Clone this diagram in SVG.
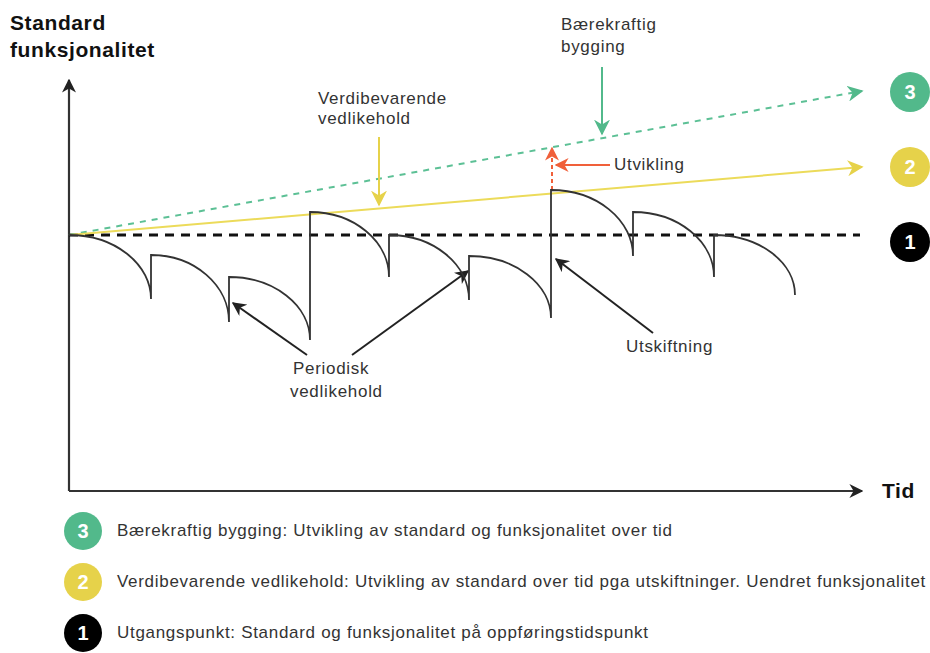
<svg xmlns="http://www.w3.org/2000/svg" width="930" height="653" viewBox="0 0 930 653">
<defs>
<style>
.t{font-family:"Liberation Sans",Arial,sans-serif;font-size:17px;letter-spacing:0.7px;fill:#333}
.b{font-family:"Liberation Sans",Arial,sans-serif;font-size:21px;letter-spacing:0.6px;font-weight:bold;fill:#111}
.n{font-family:"Liberation Sans",Arial,sans-serif;font-size:20px;font-weight:bold;fill:#fff;text-anchor:middle}
.curve{fill:none;stroke:#333;stroke-width:1.8}
</style>
<marker id="ak2" viewBox="0 0 10 10" refX="9" refY="5" markerWidth="14" markerHeight="14" markerUnits="userSpaceOnUse" orient="auto"><path d="M0,0 L10,5 L0,10 L3,5 z" fill="#222"/></marker>
<marker id="ag" viewBox="0 0 10 10" refX="9" refY="5" markerWidth="16" markerHeight="16" markerUnits="userSpaceOnUse" orient="auto"><path d="M0,0 L10,5 L0,10 L3,5 z" fill="#52b98b"/></marker>
<marker id="ay" viewBox="0 0 10 10" refX="9" refY="5" markerWidth="16" markerHeight="16" markerUnits="userSpaceOnUse" orient="auto"><path d="M0,0 L10,5 L0,10 L3,5 z" fill="#e6d24a"/></marker>
<marker id="ar" viewBox="0 0 10 10" refX="9" refY="5" markerWidth="14" markerHeight="14" markerUnits="userSpaceOnUse" orient="auto"><path d="M0,0 L10,5 L0,10 L3,5 z" fill="#f0603a"/></marker>
</defs>
<rect width="930" height="653" fill="#fff"/>

<g id="axes">
<line x1="69" y1="491" x2="69" y2="80" stroke="#333" stroke-width="2.2" marker-end="url(#ak2)"/>
<line x1="69" y1="491" x2="862" y2="491" stroke="#333" stroke-width="2.2" marker-end="url(#ak2)"/>
<text class="b" x="10" y="30">Standard</text>
<text class="b" x="10" y="57">funksjonalitet</text>
<text class="b" x="882" y="498">Tid</text>
</g>

<g id="connectors">
<line x1="69" y1="235" x2="860" y2="235" stroke="#111" stroke-width="3" stroke-dasharray="9,7"/>
<line x1="69" y1="235" x2="862" y2="91" stroke="#5cc095" stroke-width="2" stroke-dasharray="6,6" marker-end="url(#ag)"/>
<line x1="69" y1="235" x2="862" y2="167" stroke="#ecdb5a" stroke-width="2" marker-end="url(#ay)"/>
<line x1="379" y1="137" x2="379" y2="205" stroke="#e6d24a" stroke-width="2" marker-end="url(#ay)"/>
<line x1="602" y1="67" x2="602" y2="134" stroke="#52b98b" stroke-width="2" marker-end="url(#ag)"/>
<line x1="552" y1="190" x2="552" y2="148" stroke="#f0603a" stroke-width="2" stroke-dasharray="4,3" marker-end="url(#ar)"/>
<line x1="610" y1="165" x2="556" y2="165" stroke="#f0603a" stroke-width="2" marker-end="url(#ar)"/>
<line x1="307" y1="355" x2="233" y2="303" stroke="#222" stroke-width="2" marker-end="url(#ak2)"/>
<line x1="352" y1="355" x2="468" y2="271" stroke="#222" stroke-width="2" marker-end="url(#ak2)"/>
<line x1="653" y1="333" x2="556" y2="259" stroke="#222" stroke-width="2" marker-end="url(#ak2)"/>
</g>

<g id="curve">
<path class="curve" d="M69,235 A82,64 0 0 1 151,299 V255 A78,67 0 0 1 229,322 V277 A81,63 0 0 1 310,340 V212 A79,65 0 0 1 389,277 V235 A80,65 0 0 1 469,300 V256 A82,62 0 0 1 551,318 V190 A82,66 0 0 1 633,256 V212 A81,65 0 0 1 714,277 V235 A81,60 0 0 1 795,295"/>
</g>

<g id="label-verdi">
<text class="t" x="318" y="104">Verdibevarende</text>
<text class="t" x="318" y="124">vedlikehold</text>
</g>
<g id="label-baere">
<text class="t" x="561" y="30">Bærekraftig</text>
<text class="t" x="561" y="52">bygging</text>
</g>
<g id="label-utvikling">
<text class="t" x="614" y="170">Utvikling</text>
</g>
<g id="label-periodisk">
<text class="t" x="293" y="374">Periodisk</text>
<text class="t" x="290" y="397">vedlikehold</text>
</g>
<g id="label-utskiftning">
<text class="t" x="626" y="352">Utskiftning</text>
</g>

<g id="c3"><circle cx="910" cy="92" r="20" fill="#52b98b"/><text class="n" x="910" y="99">3</text></g>
<g id="c2"><circle cx="910" cy="167" r="20" fill="#e6d24a"/><text class="n" x="910" y="174">2</text></g>
<g id="c1"><circle cx="910" cy="242" r="20" fill="#000"/><text class="n" x="910" y="249">1</text></g>

<g id="legend3"><circle cx="83" cy="531" r="19" fill="#52b98b"/><text class="n" x="83" y="538">3</text><text class="t" x="117" y="536">Bærekraftig bygging: Utvikling av standard og funksjonalitet over tid</text></g>
<g id="legend2"><circle cx="83" cy="582" r="19" fill="#e6d24a"/><text class="n" x="83" y="589">2</text><text class="t" x="117" y="587">Verdibevarende vedlikehold: Utvikling av standard over tid pga utskiftninger. Uendret funksjonalitet</text></g>
<g id="legend1"><circle cx="83" cy="633" r="19" fill="#000"/><text class="n" x="83" y="640">1</text><text class="t" x="117" y="638">Utgangspunkt: Standard og funksjonalitet på oppføringstidspunkt</text></g>
</svg>
